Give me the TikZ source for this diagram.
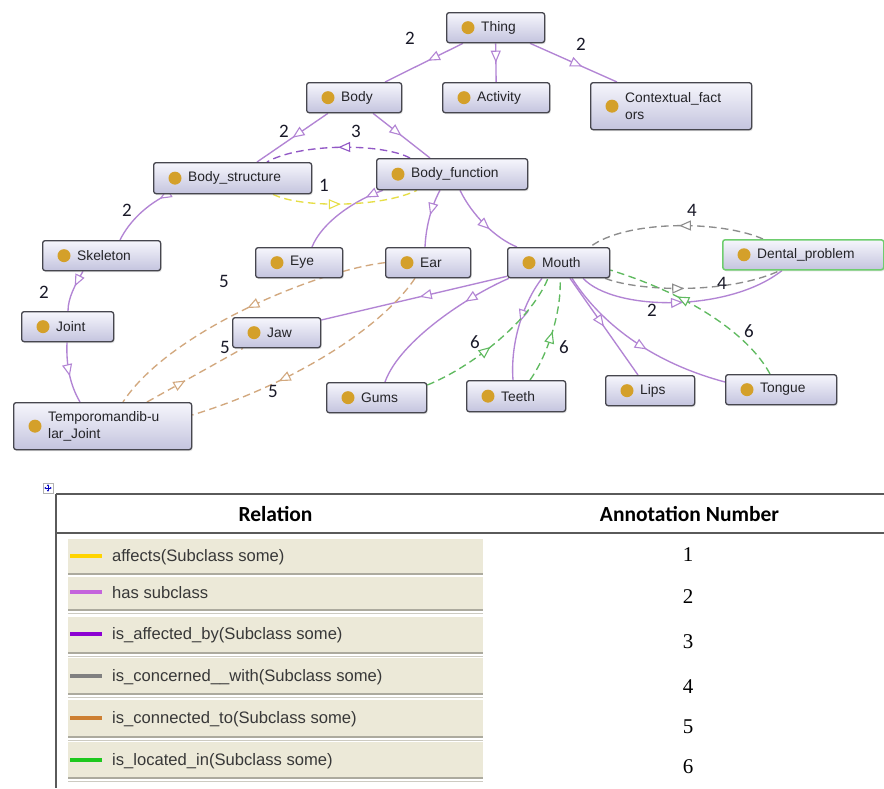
\documentclass[tikz,border=0pt]{standalone}
\usepackage{fontspec}
\setmainfont{Liberation Sans}
\newfontfamily\lblfont{Carlito}
\newfontfamily\tabnum{Liberation Serif}
\usetikzlibrary{arrows.meta,decorations.markings,shadows,calc}
\pgfdeclarelayer{links}
\pgfsetlayers{links,main}

\definecolor{subc}{RGB}{178,132,212}
\definecolor{affby}{RGB}{146,88,198}
\definecolor{affc}{RGB}{230,222,70}
\definecolor{conc}{RGB}{140,140,140}
\definecolor{connc}{RGB}{210,168,126}
\definecolor{locc}{RGB}{96,186,96}
\definecolor{boxtop}{RGB}{246,246,252}
\definecolor{boxbot}{RGB}{196,196,222}
\definecolor{boxline}{RGB}{70,70,78}
\definecolor{dotc}{RGB}{212,160,42}
\definecolor{txtc}{RGB}{36,36,40}
\definecolor{numc}{RGB}{25,25,40}
\definecolor{beige}{RGB}{236,233,216}
\definecolor{rowline}{RGB}{172,170,158}
\definecolor{rowline2}{RGB}{205,203,194}
\definecolor{tline}{RGB}{90,90,90}
\definecolor{lgaff}{RGB}{255,212,0}
\definecolor{lgsub}{RGB}{196,100,220}
\definecolor{lgaffby}{RGB}{140,0,210}
\definecolor{lgcon}{RGB}{128,128,128}
\definecolor{lgconn}{RGB}{205,127,50}
\definecolor{lgloc}{RGB}{30,200,30}
\definecolor{dentalc}{RGB}{110,205,110}

\tikzset{
  oarr/.tip={Triangle[open,length=12pt,width=10pt,fill=white]},
  clsbox/.style={rectangle, rounded corners=2.5pt, draw=boxline, line width=1.3pt,
    top color=boxtop, bottom color=boxbot, inner sep=0pt,
    drop shadow={shadow xshift=1pt, shadow yshift=-1.5pt, opacity=0.22}},
  clstext/.style={anchor=west, inner sep=0pt, text=txtc, align=left,
    font=\fontsize{13.8}{17}\selectfont},
  midarr/.style={postaction={decorate}, decoration={markings,
    mark=at position #1 with {\arrow[line width=1.1pt]{oarr}}}},
  sub/.style={draw=subc, line width=1.35pt},
  dsh/.style={line width=1.35pt, dash pattern=on 7.5pt off 4.5pt},
  affby/.style={dsh, draw=affby},
  aff/.style={dsh, draw=affc},
  conc/.style={dsh, draw=conc},
  conn/.style={dsh, draw=connc},
  loc/.style={dsh, draw=locc},
  num/.style={inner sep=0pt, text=numc, font=\lblfont\fontsize{19}{20}\selectfont},
  hdr/.style={inner sep=0pt, text=black, font=\lblfont\bfseries\fontsize{21.5}{24}\selectfont},
  tabn/.style={inner sep=0pt, text=black, font=\tabnum\fontsize{21}{24}\selectfont},
  legtext/.style={anchor=west, inner sep=0pt, text=black!78,
    font=\fontsize{16.6}{19}\selectfont},
  tline/.style={draw=tline, line width=1.3pt}
}

% class box: [extra style] name, x0, y0, x1, y1, label
\newcommand\owlclass[7][]{%
  \node[clsbox, minimum width={(#5-#3)*1pt}, minimum height={(#6-#4)*1pt},
        anchor=north west, #1] (#2) at (#3,#4) {};
  \fill[dotc] ([xshift=22pt]#2.west) circle (6.5pt);
  \node[clstext] (#2-t) at ([xshift=35pt]#2.west) {#7};
}

\begin{document}
\begin{tikzpicture}[x=1pt,y=-1pt]
\useasboundingbox (0,0) rectangle (884,788);

% classes
\owlclass{thing}{446}{12}{544}{42}{Thing}
\owlclass{body}{306}{82}{401}{112}{Body}
\owlclass{activity}{442}{82}{549}{112}{Activity}
\owlclass{context}{590}{82}{751}{129}{Contextual\_fact\\ors}
\owlclass{bstruct}{153}{162}{311}{193}{Body\_structure}
\owlclass{bfunc}{376}{158}{527}{189}{Body\_function}
\owlclass{skeleton}{42}{240}{160}{270}{Skeleton}
\owlclass{joint}{21}{311}{113}{341}{Joint}
\owlclass{tmj}{13}{402}{191}{449}{Temporomandib-u\\lar\_Joint}
\owlclass{eye}{255}{247}{342}{277}{Eye}
\owlclass{ear}{385}{247}{470}{277}{Ear}
\owlclass{mouth}{507}{247}{609}{277}{Mouth}
\owlclass[draw=dentalc, line width=1.5pt]{dental}{722}{239}{883}{269}{Dental\_problem}
\owlclass{jaw}{232}{317}{320}{347}{Jaw}
\owlclass{gums}{326}{382}{426}{412}{Gums}
\owlclass{teeth}{466}{380}{565}{411}{Teeth}
\owlclass{lips}{605}{375}{694}{405}{Lips}
\owlclass{tongue}{725}{374}{836}{404}{Tongue}

\begin{pgfonlayer}{links}
\fill[white] (0,0) rectangle (884,788);

% has subclass
\draw[sub, midarr=0.45] ([xshift=17pt]thing.south west) -- ([xshift=79pt]body.north west);
\draw[sub, midarr=0.5] (thing.south) -- (activity.north);
\draw[sub, midarr=0.6] ([xshift=84pt]thing.south west) -- ([xshift=27pt]context.north west);
\draw[sub, midarr=0.5] ([xshift=22pt]body.south west) -- ([xshift=104pt]bstruct.north west);
\draw[sub, midarr=0.5] ([xshift=67pt]body.south west) -- ([xshift=54pt]bfunc.north west);
\draw[sub, midarr=0.14] ([xshift=15pt]bstruct.south west) .. controls (148,204) and (130,220) .. ([xshift=78pt]skeleton.north west);
\draw[sub, midarr=0.4] ([xshift=41pt]skeleton.south west) .. controls (75,285) and (68,298) .. ([xshift=47pt]joint.north west);
\draw[sub, midarr=0.55] ([xshift=46pt]joint.south west) .. controls (66,365) and (70,385) .. ([xshift=67pt]tmj.north west);
\draw[sub, midarr=0.2] ([xshift=7pt]bfunc.south west) .. controls (355,200) and (322,222) .. ([xshift=57pt]eye.north west);
\draw[sub, midarr=0.45] ([xshift=64pt]bfunc.south west) .. controls (432,205) and (426,225) .. ([xshift=40pt]ear.north west);
\draw[sub, midarr=0.6] ([xshift=84pt]bfunc.south west) .. controls (472,215) and (495,238) .. ([xshift=10pt]mouth.north west);
\draw[sub, midarr=0.5] ([xshift=76pt]mouth.south west) .. controls (615,312) and (730,312) .. ([xshift=60pt]dental.south west);
\draw[sub, midarr=0.47] ([yshift=2pt]mouth.south west) -- ([yshift=-3pt]jaw.north east);
\draw[sub, midarr=0.3] ([xshift=2pt]mouth.south west) .. controls (470,295) and (400,340) .. ([xshift=59pt]gums.north west);
\draw[sub, midarr=0.45] ([xshift=35pt]mouth.south west) .. controls (525,300) and (510,340) .. ([xshift=47pt]teeth.north west);
\draw[sub, midarr=0.5] ([xshift=63pt]mouth.south west) -- ([xshift=33pt]lips.north west);
\draw[sub, midarr=0.55] ([xshift=65pt]mouth.south west) .. controls (600,322) and (650,362) .. ([yshift=-8pt]tongue.north west);

% is_affected_by / affects
\draw[affby, midarr=0.5] ([xshift=34pt]bfunc.north west) .. controls (382,143) and (300,143) .. ([xshift=114pt]bstruct.north west);
\draw[aff, midarr=0.47] ([xshift=120pt]bstruct.south west) .. controls (300,208) and (380,208) .. ([xshift=41pt]bfunc.south west);

% is_concerned__with
\draw[conc, midarr=0.48] ([xshift=41pt]dental.north west) .. controls (720,220) and (625,220) .. ([xshift=83pt]mouth.north west);
\draw[conc, midarr=0.45] ([xshift=98pt]mouth.south west) .. controls (640,292) and (730,294) .. ([xshift=58pt]dental.south west);

% is_connected_to
\draw[conn, midarr=0.48] (ear.west) .. controls (320,270) and (170,330) .. ([xshift=110pt]tmj.north west);
\draw[conn, midarr=0.4] ([xshift=134pt]tmj.north west) -- ([xshift=11pt]jaw.south west);
\draw[conn, midarr=0.65] ([xshift=30pt]ear.south west) .. controls (380,330) and (290,385) .. ([yshift=-13pt]tmj.north east);

% is_located_in
\draw[loc, midarr=0.63] ([xshift=45pt]tongue.north west) .. controls (752,340) and (700,298) .. ([yshift=-23pt]mouth.north east);
\draw[loc, midarr=0.45] ([yshift=-3pt]gums.north east) .. controls (470,368) and (530,322) .. ([xshift=41pt]mouth.south west);
\draw[loc, midarr=0.5] ([xshift=64pt]teeth.north west) .. controls (548,355) and (562,310) .. ([xshift=53pt]mouth.south west);
\end{pgfonlayer}

% annotation numbers
\node[num] (a1) at (410,38) {2};
\node[num] (a2) at (581,44) {2};
\node[num] (a3) at (284,131) {2};
\node[num] (a4) at (356,131) {3};
\node[num] (a5) at (324,185) {1};
\node[num] (a6) at (127,210) {2};
\node[num] (a7) at (44,292) {2};
\node[num] (a8) at (224,281) {5};
\node[num] (a9) at (225,347) {5};
\node[num] (a10) at (273,391) {5};
\node[num] (a11) at (692,210) {4};
\node[num] (a12) at (722,283) {4};
\node[num] (a13) at (652,310) {2};
\node[num] (a14) at (749,331) {6};
\node[num] (a15) at (475,342) {6};
\node[num] (a16) at (564,347) {6};

% ---------- legend table ----------
\node[draw=black!30, fill=white, minimum size=10pt, inner sep=0pt] (mv) at (48,488) {};
\draw[blue!75!black, line width=0.6pt, {Stealth[length=2pt,width=2.4pt]}-{Stealth[length=2pt,width=2.4pt]}]
  ([xshift=1.5pt]mv.west) -- ([xshift=-1.5pt]mv.east);
\draw[blue!75!black, line width=0.6pt, {Stealth[length=2pt,width=2.4pt]}-{Stealth[length=2pt,width=2.4pt]}]
  ([yshift=-1.5pt]mv.north) -- ([yshift=1.5pt]mv.south);

\coordinate (tl) at (56,494);
\coordinate (tr) at (884,494);
\coordinate (hl) at (56,533);
\coordinate (hr) at (884,533);
\coordinate (bl) at (56,788);
\draw[tline] (tl) -- (tr);
\draw[tline] (hl) -- (hr);
\draw[tline] (tl) -- (bl);

\node[hdr] (hrel) at (275.5,514) {Relation};
\node[hdr] (hann) at (689.5,514) {Annotation Number};

\foreach \yt/\yb/\yl/\col/\txt/\n/\yn [count=\i] in {
  539/574/556/lgaff/{affects(Subclass some)}/1/554.5,
  577/610/592/lgsub/{has subclass}/2/597,
  617/653/634/lgaffby/{is\_affected\_by(Subclass some)}/3/642,
  658/694/676/lgcon/{is\_concerned\_\_with(Subclass some)}/4/687,
  700/737/718/lgconn/{is\_connected\_to(Subclass some)}/5/727,
  742/778/760/lgloc/{is\_located\_in(Subclass some)}/6/767}{
  \fill[beige] (68,\yt) rectangle (483,\yb);
  \draw[rowline, line width=1.6pt] (68,\yb) -- (483,\yb);
  \draw[rowline2, line width=0.9pt] (68,\yb+3) -- (483,\yb+3);
  \draw[\col, line width=4pt] (70,\yl) -- (102,\yl);
  \node[legtext] (leg\i) at (112,\yl+1) {\txt};
  \node[tabn] (num\i) at (688,\yn) {\n};
}
\end{tikzpicture}
\end{document}
